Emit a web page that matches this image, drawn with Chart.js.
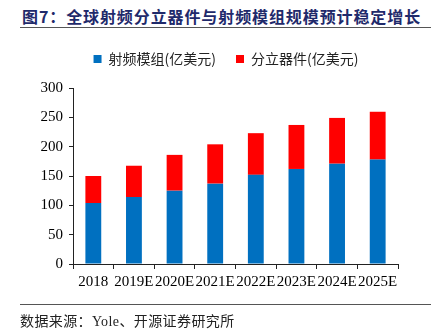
<!DOCTYPE html>
<html>
<head>
<meta charset="utf-8">
<script src="https://cdn.jsdelivr.net/npm/chart.js"></script>
<style>
    body { margin: 0; width: 431px; height: 333px; background: #fff; overflow: hidden; }
    .title {
        position: absolute; left: 22px; top: 4px;
        font-family: "Noto Sans CJK SC", sans-serif; font-weight: bold;
        font-size: 16px; color: #1f2a6b; letter-spacing: 0.9px;
    }
    .rule { position: absolute; left: 20px; right: 0; height: 1px; background: #555; }
    .source {
        position: absolute; left: 20px; top: 310px;
        font-family: "Noto Sans CJK SC", sans-serif;
        font-size: 14px; color: #222; letter-spacing: 0.4px;
    }
    .source .en { font-family: "Liberation Serif", serif; }
    .chart-box { position: absolute; left: 0; top: 0; width: 431px; height: 333px; }
</style>
</head>
<body>
    <div class="title">图7：全球射频分立器件与射频模组规模预计稳定增长</div>
    <div class="rule" style="top:27px"></div>
    <div class="chart-box"><canvas id="rfChart"></canvas></div>
    <div class="rule" style="top:304px"></div>
    <div class="source">数据来源：<span class="en">Yole</span>、开源证券研究所</div>
    <script>
        const years = ['2018', '2019E', '2020E', '2021E', '2022E', '2023E', '2024E', '2025E'];
        const moduleValues = [104, 114, 125, 137, 152, 162, 171, 178];
        const discreteValues = [46, 53.5, 61, 67, 71, 75, 78, 81.5];
        const yTicks = [0, 50, 100, 150, 200, 250, 300];

        const serif = '"Liberation Serif", "Times New Roman", serif';
        const cjk = '"Noto Sans CJK SC", sans-serif';

        // extra room under the legend, and legend nudged right
        const legendGap = {
            id: 'legendGap',
            beforeInit(chart) {
                const fit = chart.legend.fit;
                chart.legend.fit = function () {
                    fit.bind(chart.legend)();
                    this.height += 12;
                };
            },
            afterLayout(chart) {
                chart.legend.left += 27;
                chart.legend.right += 27;
            }
        };

        const ctx = document.getElementById('rfChart').getContext('2d');
        new Chart(ctx, {
            type: 'bar',
            data: {
                labels: years,
                datasets: [{
                    label: '射频模组(亿美元)',
                    data: moduleValues,
                    backgroundColor: '#0070c0',
                    barPercentage: 0.39,
                    categoryPercentage: 1
                }, {
                    label: '分立器件(亿美元)',
                    data: discreteValues,
                    backgroundColor: '#ff0000',
                    barPercentage: 0.39,
                    categoryPercentage: 1
                }]
            },
            plugins: [legendGap],
            options: {
                responsive: true,
                maintainAspectRatio: false,
                animation: false,
                layout: { padding: { left: 0, right: 33, top: 32, bottom: 33 } },
                plugins: {
                    legend: {
                        labels: {
                            boxWidth: 8, boxHeight: 8, padding: 20,
                            color: '#222',
                            font: { family: cjk, size: 14 }
                        }
                    },
                    tooltip: { enabled: false }
                },
                scales: {
                    x: {
                        stacked: true,
                        border: { color: '#222', width: 1 },
                        grid: { drawOnChartArea: false, drawTicks: true, tickLength: 5, color: '#222' },
                        ticks: {
                            autoSkip: false, maxRotation: 0, color: '#000', padding: 4,
                            font: { family: serif, size: 15 }
                        },
                        afterFit: scale => { scale.height = 36; }
                    },
                    y: {
                        stacked: true,
                        min: 0, max: 300,
                        border: { color: '#222', width: 1 },
                        grid: { drawOnChartArea: false, drawTicks: true, tickLength: 4, color: '#222' },
                        afterBuildTicks: scale => { scale.ticks = yTicks.map(v => ({ value: v })); },
                        ticks: {
                            color: '#000', padding: 6,
                            font: { family: serif, size: 15 }
                        },
                        afterFit: scale => { scale.width = 73; }
                    }
                }
            }
        });
    </script>
</body>
</html>
